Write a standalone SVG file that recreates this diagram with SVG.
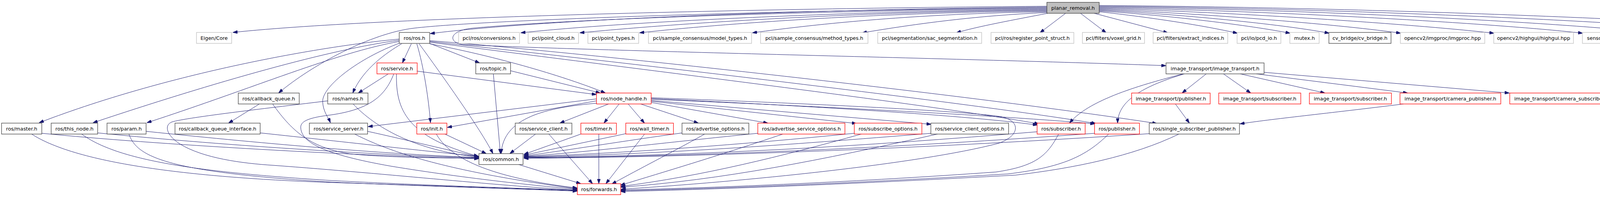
<svg xmlns="http://www.w3.org/2000/svg" width="4996" height="504" viewBox="0 0 4996 504">
<defs>
<marker id="ah" viewBox="0 0 12 8" refX="12" refY="4" markerWidth="12" markerHeight="8" markerUnits="userSpaceOnUse" orient="auto">
<path d="M0,0 L12,4 L0,8 z" fill="#191970" stroke="#191970" stroke-width="1"/>
</marker>
</defs>
<style>
.n rect{fill:#ffffff;stroke-width:1.3}
.g rect{stroke:#bfbfbf}
.b rect{stroke:#404040}
.r rect{stroke:#ff0000}
.root rect{fill:#bfbfbf;stroke:#404040}
.n text{font-family:"DejaVu Sans",sans-serif;font-size:12.8px;fill:#000;text-anchor:middle}
#edges path{fill:none;stroke:#191970;stroke-width:1;marker-end:url(#ah)}
</style>
<rect width="4996" height="504" fill="#ffffff"/>
<g id="edges">
<path d="M2680,16 C2100,20 1000,40 596,83"/>
<path d="M2680,18 C2100,24 1400,48 1101,86"/>
<path d="M2680,20 C2000,26 1250,50 1060,72 C950,85 800,165 713,238"/>
<path d="M2680,22 C2200,26 1500,45 1210,72 C1150,78 1145,108 1185,114 C1500,130 2500,150 2985,168"/>
<path d="M2680,24 C2200,28 1600,55 1333,84"/>
<path d="M2680,26 C2200,30 1750,58 1484,84"/>
<path d="M2680,28 C2250,32 1850,60 1637,84"/>
<path d="M2680,30 C2350,35 2100,60 1926,84"/>
<path d="M2680,32 C2500,40 2350,60 2207,84"/>
<path d="M2682,34 C2600,50 2500,68 2448,84"/>
<path d="M2728,34 L2662,84"/>
<path d="M2766,34 L2832,84"/>
<path d="M2801,34 L2990,84"/>
<path d="M2814,30 C2950,45 3080,65 3168,85"/>
<path d="M2814,28 C3000,40 3200,65 3303,85"/>
<path d="M2814,26 C3050,38 3300,65 3403,85"/>
<path d="M2814,24 C3100,35 3450,65 3586,85"/>
<path d="M2814,22 C3200,32 3650,65 3825,85"/>
<path d="M2814,20 C3300,28 3850,62 4052,85"/>
<path d="M2814,18 C3400,24 4050,62 4238,85"/>
<path d="M2814,16 C3500,22 4250,60 4461,85"/>
<path d="M2814,14 C3600,20 4450,58 4696,85"/>
<path d="M1022,100 C850,115 450,180 100,314"/>
<path d="M1022,103 C850,125 550,210 238,314"/>
<path d="M1022,106 C860,135 650,225 376,314"/>
<path d="M1024,110 C920,148 825,220 826,260 C827,285 840,300 846,314"/>
<path d="M1028,112 C990,135 930,175 903,238"/>
<path d="M1053,112 L1030,161"/>
<path d="M1067,112 C1085,170 1098,260 1102,314"/>
<path d="M1073,112 C1130,190 1230,330 1262,393"/>
<path d="M1100,111 L1228,161"/>
<path d="M1100,112 C1300,150 1470,205 1550,238"/>
<path d="M1100,104 C1500,135 2500,245 2962,316"/>
<path d="M1100,106 C1600,160 2500,265 2806,316"/>
<path d="M1100,108 C1700,185 2400,270 2660,317"/>
<path d="M994,189 L917,238"/>
<path d="M1068,182 L1527,242"/>
<path d="M1015,189 C1013,280 1040,350 1225,400"/>
<path d="M1008,189 C985,250 940,282 840,295 C785,302 768,312 770,328 C773,365 830,395 1000,425 C1200,458 1400,478 1478,484"/>
<path d="M1263,189 L1281,393"/>
<path d="M1307,181 L1537,238"/>
<path d="M664,266 L585,315"/>
<path d="M698,266 C750,340 800,380 900,394 C1000,404 1150,404 1226,405"/>
<path d="M839,258 C700,275 480,300 440,312 C420,320 425,345 460,368 C520,405 620,418 700,423 C1000,445 1300,478 1478,486"/>
<path d="M904,266 C960,325 1060,385 1226,402"/>
<path d="M1527,253 L942,324"/>
<path d="M1527,258 L1145,326"/>
<path d="M1528,264 C1400,275 1288,300 1283,393"/>
<path d="M1558,266 L1433,315"/>
<path d="M1585,266 L1546,315"/>
<path d="M1608,266 L1650,315"/>
<path d="M1640,266 L1788,315"/>
<path d="M1667,262 L1966,315"/>
<path d="M1667,259 L2193,316"/>
<path d="M1667,257 L2384,318"/>
<path d="M1667,252 C2000,268 2450,292 2656,320"/>
<path d="M1667,254 C2100,272 2600,298 2803,317"/>
<path d="M1667,250 C2000,262 2450,282 2560,298 C2615,308 2612,348 2555,367 C2350,420 1900,465 1590,484"/>
<path d="M107,341 C400,370 900,398 1226,406"/>
<path d="M81,343 C200,420 500,455 850,467 C1100,475 1350,483 1478,488"/>
<path d="M250,340 C600,375 1000,398 1226,404"/>
<path d="M209,343 C300,410 500,440 850,462 C1100,475 1350,482 1478,487"/>
<path d="M374,336 C700,370 1000,395 1226,403"/>
<path d="M330,343 C350,400 420,440 850,466 C1100,477 1350,484 1478,489"/>
<path d="M666,340 C900,365 1100,388 1226,400"/>
<path d="M941,336 C1050,360 1150,385 1226,401"/>
<path d="M908,343 C1000,390 1150,440 1478,483"/>
<path d="M1139,343 L1245,393"/>
<path d="M1117,343 C1160,420 1300,460 1478,481"/>
<path d="M1371,343 L1305,393"/>
<path d="M1405,343 L1517,470"/>
<path d="M1487,343 L1341,395"/>
<path d="M1533,343 L1533,470"/>
<path d="M1602,342 L1341,397"/>
<path d="M1650,343 L1551,470"/>
<path d="M1747,340 C1600,360 1450,385 1341,399"/>
<path d="M1804,343 C1720,390 1640,430 1566,471"/>
<path d="M1940,341 C1700,365 1500,390 1341,400"/>
<path d="M2004,343 C1850,395 1700,440 1588,474"/>
<path d="M2187,341 C1900,370 1600,392 1341,401"/>
<path d="M2205,343 C2000,400 1800,450 1589,477"/>
<path d="M2384,341 C2000,372 1700,394 1341,402"/>
<path d="M2400,343 C2100,410 1850,460 1589,479"/>
<path d="M2656,337 C2200,375 1800,398 1341,403"/>
<path d="M2710,343 C2680,400 2650,425 2550,440 C2200,465 1850,480 1589,486"/>
<path d="M2803,341 C2300,378 1800,400 1341,404"/>
<path d="M2838,343 C2780,400 2720,428 2580,445 C2200,468 1850,482 1589,488"/>
<path d="M2942,342 C2400,378 1800,402 1341,405"/>
<path d="M3018,343 C2900,400 2750,430 2600,448 C2200,470 1850,484 1589,490"/>
<path d="M1328,421 L1487,470"/>
<path d="M3029,189 C2950,210 2790,250 2738,315"/>
<path d="M3032,189 C2910,225 2862,265 2861,315"/>
<path d="M3088,189 L3026,238"/>
<path d="M3132,189 L3202,238"/>
<path d="M3175,189 L3392,238"/>
<path d="M3216,189 L3604,238"/>
<path d="M3236,185 L3864,238"/>
<path d="M3009,266 L3045,315"/>
<path d="M3593,266 C3400,290 3250,305 3174,317"/>
</g>
<g id="n_planar_removal" class="n root"><rect x="2680" y="6" width="134" height="28"/><text x="2747" y="24.5">planar_removal.h</text></g>
<g id="n_eigen_core" class="n g"><rect x="503" y="83" width="90" height="28"/><text x="548" y="101.5">Eigen/Core</text></g>
<g id="n_ros_ros" class="n b"><rect x="1022" y="83" width="78" height="28"/><text x="1061" y="101.5">ros/ros.h</text></g>
<g id="n_pcl_conversions" class="n g"><rect x="1174" y="83" width="156" height="28"/><text x="1252" y="101.5">pcl/ros/conversions.h</text></g>
<g id="n_pcl_point_cloud" class="n g"><rect x="1352" y="83" width="129" height="28"/><text x="1416.5" y="101.5">pcl/point_cloud.h</text></g>
<g id="n_pcl_point_types" class="n g"><rect x="1505" y="83" width="130" height="28"/><text x="1570" y="101.5">pcl/point_types.h</text></g>
<g id="n_model_types" class="n g"><rect x="1660" y="83" width="264" height="28"/><text x="1792" y="101.5">pcl/sample_consensus/model_types.h</text></g>
<g id="n_method_types" class="n g"><rect x="1947" y="83" width="275" height="28"/><text x="2084.5" y="101.5">pcl/sample_consensus/method_types.h</text></g>
<g id="n_sac_segmentation" class="n g"><rect x="2247" y="83" width="266" height="28"/><text x="2380" y="101.5">pcl/segmentation/sac_segmentation.h</text></g>
<g id="n_register_point_struct" class="n g"><rect x="2537" y="83" width="212" height="28"/><text x="2643" y="101.5">pcl/ros/register_point_struct.h</text></g>
<g id="n_voxel_grid" class="n g"><rect x="2771" y="83" width="159" height="28"/><text x="2850.5" y="101.5">pcl/filters/voxel_grid.h</text></g>
<g id="n_extract_indices" class="n g"><rect x="2952" y="83" width="191" height="28"/><text x="3047.5" y="101.5">pcl/filters/extract_indices.h</text></g>
<g id="n_pcd_io" class="n g"><rect x="3167" y="83" width="112" height="28"/><text x="3223" y="101.5">pcl/io/pcd_io.h</text></g>
<g id="n_mutex" class="n g"><rect x="3302" y="83" width="75" height="28"/><text x="3339.5" y="101.5">mutex.h</text></g>
<g id="n_cv_bridge" class="n b"><rect x="3402" y="83" width="159" height="28"/><text x="3481.5" y="101.5">cv_bridge/cv_bridge.h</text></g>
<g id="n_imgproc" class="n g"><rect x="3585" y="83" width="216" height="28"/><text x="3693" y="101.5">opencv2/imgproc/imgproc.hpp</text></g>
<g id="n_highgui" class="n g"><rect x="3824" y="83" width="204" height="28"/><text x="3926" y="101.5">opencv2/highgui/highgui.hpp</text></g>
<g id="n_image" class="n g"><rect x="4051" y="83" width="163" height="28"/><text x="4132.5" y="101.5">sensor_msgs/Image.h</text></g>
<g id="n_pointcloud2" class="n g"><rect x="4237" y="83" width="199" height="28"/><text x="4336.5" y="101.5">sensor_msgs/PointCloud2.h</text></g>
<g id="n_dyn_server" class="n g"><rect x="4460" y="83" width="210" height="28"/><text x="4565" y="101.5">dynamic_reconfigure/server.h</text></g>
<g id="n_config" class="n g"><rect x="4695" y="83" width="296" height="28"/><text x="4843" y="101.5">iri_pcl_filters/IriPclFiltersParametersConfig.h</text></g>
<g id="n_service" class="n r"><rect x="965" y="161" width="103" height="28"/><text x="1016.5" y="179.5">ros/service.h</text></g>
<g id="n_topic" class="n b"><rect x="1218" y="161" width="89" height="28"/><text x="1262.5" y="179.5">ros/topic.h</text></g>
<g id="n_image_transport" class="n b"><rect x="2985" y="161" width="251" height="28"/><text x="3110.5" y="179.5">image_transport/image_transport.h</text></g>
<g id="n_callback_queue" class="n b"><rect x="610" y="238" width="156" height="28"/><text x="688" y="256.5">ros/callback_queue.h</text></g>
<g id="n_names" class="n b"><rect x="839" y="238" width="103" height="28"/><text x="890.5" y="256.5">ros/names.h</text></g>
<g id="n_node_handle" class="n r"><rect x="1527" y="238" width="140" height="28"/><text x="1597" y="256.5">ros/node_handle.h</text></g>
<g id="n_it_publisher" class="n r"><rect x="2897" y="238" width="201" height="28"/><text x="2997.5" y="256.5">image_transport/publisher.h</text></g>
<g id="n_it_subscriber1" class="n r"><rect x="3120" y="238" width="210" height="28"/><text x="3225" y="256.5">image_transport/subscriber.h</text></g>
<g id="n_it_subscriber2" class="n r"><rect x="3352" y="238" width="210" height="28"/><text x="3457" y="256.5">image_transport/subscriber.h</text></g>
<g id="n_camera_publisher" class="n r"><rect x="3584" y="238" width="258" height="28"/><text x="3713" y="256.5">image_transport/camera_publisher.h</text></g>
<g id="n_camera_subscriber" class="n r"><rect x="3865" y="238" width="265" height="28"/><text x="3997.5" y="256.5">image_transport/camera_subscriber.h</text></g>
<g id="n_master" class="n b"><rect x="4" y="315" width="103" height="28"/><text x="55.5" y="333.5">ros/master.h</text></g>
<g id="n_this_node" class="n b"><rect x="131" y="315" width="119" height="28"/><text x="190.5" y="333.5">ros/this_node.h</text></g>
<g id="n_param" class="n b"><rect x="274" y="315" width="100" height="28"/><text x="324" y="333.5">ros/param.h</text></g>
<g id="n_cbq_interface" class="n b"><rect x="448" y="315" width="218" height="28"/><text x="557" y="333.5">ros/callback_queue_interface.h</text></g>
<g id="n_service_server" class="n b"><rect x="792" y="315" width="149" height="28"/><text x="866.5" y="333.5">ros/service_server.h</text></g>
<g id="n_init" class="n r"><rect x="1067" y="315" width="77" height="28"/><text x="1105.5" y="333.5">ros/init.h</text></g>
<g id="n_service_client" class="n b"><rect x="1319" y="315" width="145" height="28"/><text x="1391.5" y="333.5">ros/service_client.h</text></g>
<g id="n_timer" class="n r"><rect x="1487" y="315" width="91" height="28"/><text x="1532.5" y="333.5">ros/timer.h</text></g>
<g id="n_wall_timer" class="n r"><rect x="1602" y="315" width="122" height="28"/><text x="1663" y="333.5">ros/wall_timer.h</text></g>
<g id="n_advertise_options" class="n b"><rect x="1746" y="315" width="171" height="28"/><text x="1831.5" y="333.5">ros/advertise_options.h</text></g>
<g id="n_advertise_service_options" class="n r"><rect x="1940" y="315" width="223" height="28"/><text x="2051.5" y="333.5">ros/advertise_service_options.h</text></g>
<g id="n_subscribe_options" class="n r"><rect x="2187" y="315" width="173" height="28"/><text x="2273.5" y="333.5">ros/subscribe_options.h</text></g>
<g id="n_service_client_options" class="n b"><rect x="2383" y="315" width="199" height="28"/><text x="2482.5" y="333.5">ros/service_client_options.h</text></g>
<g id="n_subscriber" class="n r"><rect x="2655" y="315" width="123" height="28"/><text x="2716.5" y="333.5">ros/subscriber.h</text></g>
<g id="n_publisher" class="n r"><rect x="2802" y="315" width="115" height="28"/><text x="2859.5" y="333.5">ros/publisher.h</text></g>
<g id="n_single_subscriber_publisher" class="n b"><rect x="2942" y="315" width="231" height="28"/><text x="3057.5" y="333.5">ros/single_subscriber_publisher.h</text></g>
<g id="n_common" class="n b"><rect x="1226" y="393" width="113" height="28"/><text x="1282.5" y="411.5">ros/common.h</text></g>
<g id="n_forwards" class="n r"><rect x="1478" y="470" width="111" height="28"/><text x="1533.5" y="488.5">ros/forwards.h</text></g>
</svg>
